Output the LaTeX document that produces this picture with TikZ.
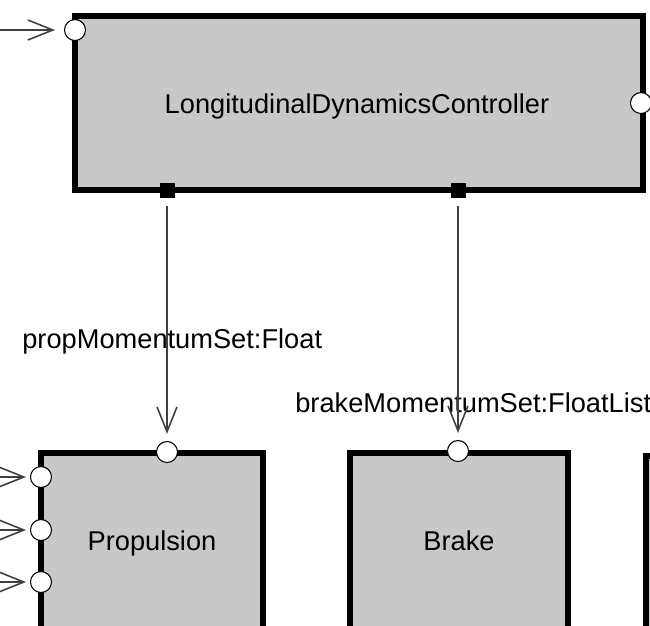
\documentclass[tikz,border=0pt]{standalone}
\usepackage{fontspec}
\setmainfont{Liberation Sans}
\usetikzlibrary{arrows.meta}
\definecolor{blockgray}{RGB}{200,200,200}
\newcommand\Block[5]{%
    \draw[block] (#2,#3) rectangle (#4,#5);
    \node[lbl,anchor=base] (#1) at ({(#2+#4)/2},550) {#1};
}
\newcommand\InPort[2]{\node[inport] (#1) at (#2) {};}

\begin{document}
\begin{tikzpicture}[x=0.2mm,y=-0.2mm,
    block/.style={draw=black,line width=3.2pt,fill=blockgray},
    inport/.style={circle,draw=black,line width=0.6pt,fill=white,inner sep=0pt,minimum size=4.2mm},
    outport/.style={rectangle,fill=black,inner sep=0pt,minimum size=3mm},
    conn/.style={draw=black!75,line width=0.9pt,-{Straight Barb[length=5mm,width=4mm]}},
    lbl/.style={font=\fontsize{15.5}{18}\selectfont,inner sep=0pt}]
    \useasboundingbox (0,0) rectangle (650,625);
    \clip (0,0) rectangle (650,625);
    % controller
    \draw[block] (75,16) rectangle (643,190);
    \node[lbl,anchor=base] (ldc) at (357,113) {LongitudinalDynamicsController};
    \InPort{ldcIn}{75,30}
    \InPort{ldcOut}{641,103}
    \node[outport] (propOut) at (167,190) {};
    \node[outport] (brakeOut) at (458,190) {};
    % actuators
    \Block{Propulsion}{41}{453}{263}{720}
    \Block{Brake}{350}{453}{568}{720}
    \draw[block] (646,456) rectangle (760,720);
    \InPort{propIn}{167,452}
    \InPort{brakeIn}{458,451}
    \foreach \y [count=\i] in {477,530,582} {
        \InPort{propSide\i}{41,\y}
        \coordinate (sideSrc\i) at (-30,\y);
        \draw[conn,shorten >=0.8mm] (sideSrc\i) -- (propSide\i);
    }
    \coordinate (ldcSrc) at (-5,30);
    \draw[conn,shorten >=1.8mm] (ldcSrc) -- (ldcIn);
    % signals
    \node[lbl,anchor=base west] (propSig) at (22,348) {propMomentumSet:Float};
    \node[lbl,anchor=base west] (brakeSig) at (295,412) {brakeMomentumSet:FloatList};
    \draw[conn,shorten <=1.6mm,shorten >=1.4mm] (propOut) -- (propIn);
    \draw[conn,shorten <=1.6mm,shorten >=1.4mm] (brakeOut) -- (brakeIn);
\end{tikzpicture}
\end{document}
